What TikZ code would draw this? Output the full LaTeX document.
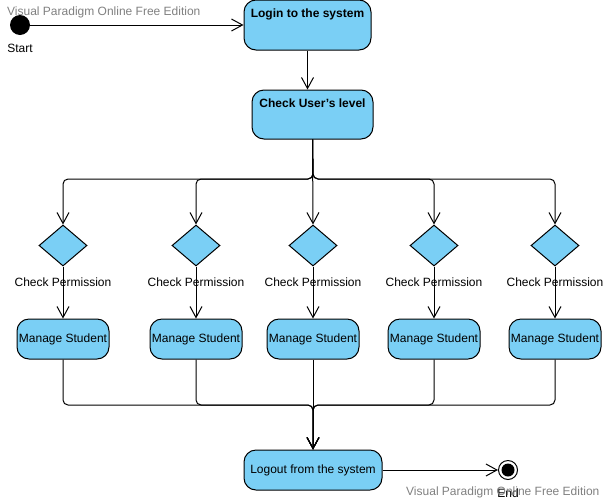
\documentclass[tikz,border=0pt]{standalone}
\usepackage{fontspec}
\setmainfont{Liberation Sans}
\usetikzlibrary{shapes.geometric,arrows.meta}
\definecolor{actfill}{RGB}{122,207,245}
\definecolor{wmgray}{RGB}{128,128,128}
\begin{document}
\begin{tikzpicture}[x=1pt,y=-1pt,
  every node/.style={font=\fontsize{12}{14}\selectfont, inner sep=0pt},
  actbox/.style={draw, line width=1pt, fill=actfill, rounded corners=12pt},
  decbox/.style={draw, line width=1pt, fill=actfill, diamond, minimum width=48pt, minimum height=41pt},
  flow/.style={draw, line width=1pt, rounded corners=5pt, -{Straight Barb[length=11pt,width=12pt,line width=1pt]}},
  wm/.style={text=wmgray}
]
\useasboundingbox (0,0) rectangle (604,501);

% start
\node[circle, fill=black, minimum size=20pt] (start) at (20,25) {};
\node (startlbl) at (20,48) {Start};
\node[wm, anchor=west] (wm1) at (7,12) {Visual Paradigm Online Free Edition};

% login
\node[actbox, minimum width=127pt, minimum height=50pt] (login) at (307.5,25) {};
\node[font=\fontsize{12}{14}\selectfont\bfseries] (logintxt) at (307.5,14) {Login to the system};

% check level
\node[actbox, minimum width=121pt, minimum height=49pt] (check) at (312.5,114.5) {};
\node[font=\fontsize{12}{14}\selectfont\bfseries] (checktxt) at (312.5,103) {Check User's level};

\draw[flow] (login.south) -- (login.south |- check.north);

\coordinate (split) at (313,179);
\coordinate (merge) at (313,405);

% branches
\foreach \i/\x in {1/63,2/196,3/313,4/434,5/555}{
  \node[decbox] (d\i) at (\x,245.5) {};
  \node (p\i) at (\x,282) {Check Permission};
  \node[actbox, minimum width=92pt, minimum height=40pt] (m\i) at (\x,339) {Manage Student};
  \draw[flow] (d\i.south) -- (m\i.north);
}

% logout
\node[actbox, minimum width=138pt, minimum height=40pt] (logout) at (313,470) {Logout from the system};

% split paths
\draw[flow] (check.south) -- (split) -- (split -| d1) -- (d1.north);
\draw[flow] (check.south) -- (split) -- (split -| d2) -- (d2.north);
\draw[flow] (check.south) -- (d3.north);
\draw[flow] (check.south) -- (split) -- (split -| d4) -- (d4.north);
\draw[flow] (check.south) -- (split) -- (split -| d5) -- (d5.north);

% merge paths
\draw[flow] (m1.south) -- (m1.south |- merge) -- (merge) -- (logout.north);
\draw[flow] (m2.south) -- (m2.south |- merge) -- (merge) -- (logout.north);
\draw[flow] (m3.south) -- (logout.north);
\draw[flow] (m4.south) -- (m4.south |- merge) -- (merge) -- (logout.north);
\draw[flow] (m5.south) -- (m5.south |- merge) -- (merge) -- (logout.north);

% start arrow
\draw[flow] (start.east) -- (login.west);

% end
\node[circle, draw, line width=1pt, fill=white, minimum size=19pt] (end) at (508,470) {};
\node[circle, fill=black, minimum size=13pt] (endin) at (508,470) {};
\draw[flow] (logout.east) -- (end.west);
\node (endlbl) at (508,493) {End};
\node[wm, anchor=west] (wm2) at (406,492) {Visual Paradigm Online Free Edition};
\end{tikzpicture}
\end{document}
